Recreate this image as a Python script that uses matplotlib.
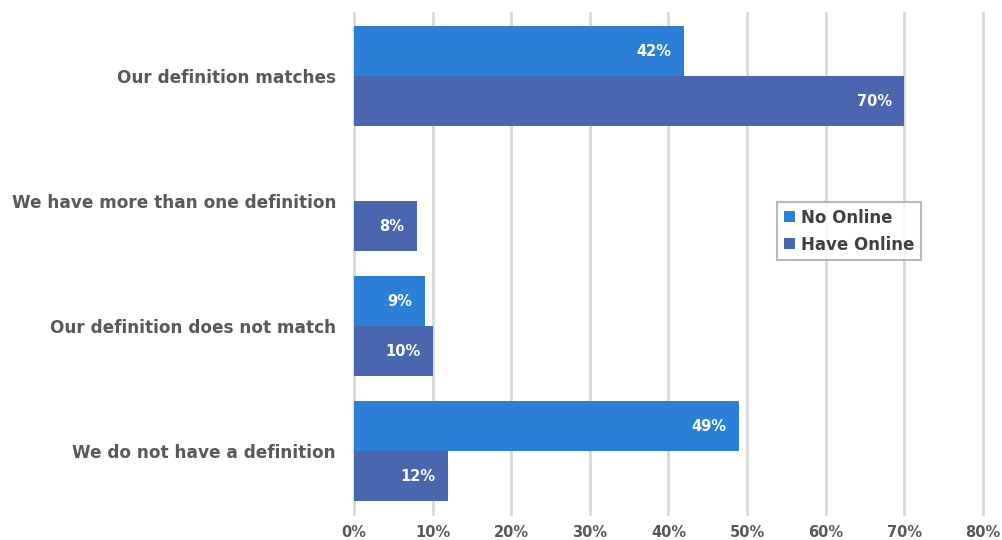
import matplotlib
matplotlib.use("Agg")
import matplotlib.pyplot as plt
import numpy as np

categories = ["Our definition matches", "We have more than one definition",
              "Our definition does not match", "We do not have a definition"]
no_online = [42, 0, 9, 49]
have_online = [70, 8, 10, 12]
xticks = [0, 10, 20, 30, 40, 50, 60, 70, 80]

c_no = "#2B7FD6"
c_have = "#4A66AE"
gray = "#595959"
font = ["DejaVu Sans"]

fig = plt.figure(figsize=(10.03, 5.40), dpi=100)
ax = fig.add_axes([0.353, 0.049, 0.627, 0.926])

y = np.arange(len(categories))
h = 0.4
b1 = ax.barh(y - h/2, no_online, height=h, color=c_no, label="No Online", zorder=3)
b2 = ax.barh(y + h/2, have_online, height=h, color=c_have, label="Have Online", zorder=3)

for bars, vals in ((b1, no_online), (b2, have_online)):
    for bar, v in zip(bars, vals):
        if v > 0:
            ax.text(v - 1.6, bar.get_y() + bar.get_height()/2, f"{v}%",
                    ha="right", va="center", color="white", fontsize=10.5,
                    fontweight="bold", family=font, zorder=4)

ax.set_xlim(0, 80)
ax.set_ylim(len(categories) - 0.5, -0.5)
ax.set_xticks(xticks)
ax.set_xticklabels([f"{t}%" for t in xticks], color=gray, fontsize=10.5,
                   fontweight="bold", family=font)
ax.set_yticks(y)
ax.set_yticklabels(categories, color=gray, fontsize=12.2, fontweight="bold", family=font)
ax.tick_params(axis="x", length=0, pad=8)
ax.tick_params(axis="y", length=0, pad=13)
for s in ax.spines.values():
    s.set_visible(False)
for gl in ax.xaxis.get_gridlines():
    gl.set_clip_on(False)
ax.grid(axis="x", color="#D9D9D9", linewidth=2, zorder=0)
for gl in ax.xaxis.get_gridlines():
    gl.set_clip_on(False)
ax.set_axisbelow(True)

leg = ax.legend(loc="upper left", bbox_to_anchor=(0.66, 0.64), frameon=True,
                fancybox=False, edgecolor="#A6A6A6", handlelength=0.65, handleheight=0.65,
                handletextpad=0.35, labelspacing=0.55, borderpad=0.4,
                prop={"family": font, "weight": "bold", "size": 12})
for t in leg.get_texts():
    t.set_color("#404040")
leg.get_frame().set_linewidth(1.5)

fig.savefig("out.png", dpi=100, facecolor="white")
